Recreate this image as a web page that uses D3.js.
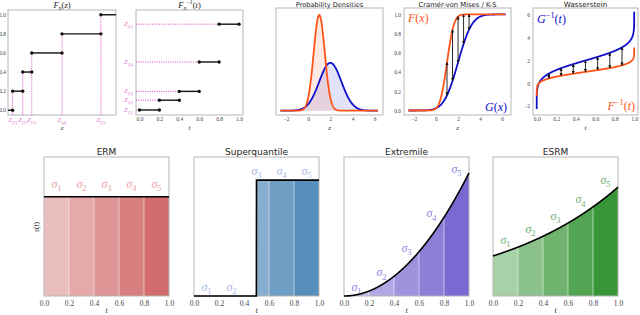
<!DOCTYPE html>
<html>
<head>
<meta charset="utf-8">
<script src="https://cdn.jsdelivr.net/npm/d3@7"></script>
<style>body{margin:0;background:#fff;}</style>
</head>
<body>
<div class="canvas"></div>
<script>
// values
const zSamples = [0.43, 1.36, 2.2, 5.0, 8.6];       // Z(1)..Z(5)
const fnLevels = [0, 0.2, 0.4, 0.6, 0.8, 1.0];      // F_n on each step
const fnTicks = [0, 0.2, 0.4, 0.6, 0.8, 1.0];
const tTicks = [0, 0.2, 0.4, 0.6, 0.8, 1.0];
const zTicks = [-2, 0, 2, 4, 6];
const cdfTicks = [0, 0.2, 0.4, 0.6, 0.8, 1.0];
const quantTicks = [-2, 0, 2, 4, 6];
const fDist = [1, 0.5];   // mean, sd of F (orange)
const gDist = [2, 1];     // mean, sd of G (blue)
const ksPoints = [1, 1.5, 2, 2.5, 3];
const wassPoints = [0.125, 0.25, 0.375, 0.5, 0.625, 0.75, 0.875];
const binEdges = [0, 0.2, 0.4, 0.6, 0.8, 1.0];
const binAlpha = [0.4, 0.525, 0.65, 0.775, 0.9];
const spectrumNames = ['ERM', 'Superquantile', 'Extremile', 'ESRM'];
const spectrumColors = ['#cd5c5c', '#4682b4', '#6a5acd', '#228b22'];
const sigmaColors = ['#e9a3a3', '#a6b9e6', '#8d84e0', '#6fae6f'];
const spectrumYMax = [1.4, 2.4, 3.39, 2.02];
const sigmaLift = [9, 5.5, 0, 3.5];
const sqLevel = 0.5;
const extremileR = 3;
const esrmRho = 1;

const ORANGE = '#ff5419', BLUE = '#1010cc', MAGENTA = '#e040b8', ZCOL = '#e36cc4';
const SERIF = '"Liberation Serif", "DejaVu Serif", serif';
const SANS = '"DejaVu Sans", sans-serif';

const svg = d3.select('.canvas')
    .append('svg')
    .attr('width', 640)
    .attr('height', 315);

const defs = svg.append('defs');
defs.append('marker')
    .attr('id', 'arr')
    .attr('viewBox', '0 0 10 10')
    .attr('refX', 9).attr('refY', 5)
    .attr('markerWidth', 3.2).attr('markerHeight', 3.2)
    .attr('markerUnits', 'userSpaceOnUse')
    .attr('orient', 'auto-start-reverse')
    .append('path').attr('d', 'M0,0L10,5L0,10z').attr('fill', '#111');

// math helpers
function normPdf(x, p) { return Math.exp(-((x - p[0]) ** 2) / (2 * p[1] * p[1])) / (p[1] * Math.sqrt(2 * Math.PI)); }
function erf(x) {
    const s = Math.sign(x); x = Math.abs(x);
    const t = 1 / (1 + 0.3275911 * x);
    const y = 1 - (((((1.061405429 * t - 1.453152027) * t) + 1.421413741) * t - 0.284496736) * t + 0.254829592) * t * Math.exp(-x * x);
    return s * y;
}
function normCdf(x, p) { return 0.5 * (1 + erf((x - p[0]) / (p[1] * Math.SQRT2))); }
function normInv(pr, p) {
    const a = [-3.969683028665376e+01, 2.209460984245205e+02, -2.759285104469687e+02, 1.383577518672690e+02, -3.066479806614716e+01, 2.506628277459239e+00];
    const b = [-5.447609879822406e+01, 1.615858368580409e+02, -1.556989798598866e+02, 6.680131188771972e+01, -1.328068155288572e+01];
    const c = [-7.784894002430293e-03, -3.223964580411365e-01, -2.400758277161838e+00, -2.549732539343734e+00, 4.374664141464968e+00, 2.938163982698783e+00];
    const d = [7.784695709041462e-03, 3.224671290700398e-01, 2.445134137142996e+00, 3.754408661907416e+00];
    let z;
    if (pr < 0.02425) {
        const q = Math.sqrt(-2 * Math.log(pr));
        z = (((((c[0] * q + c[1]) * q + c[2]) * q + c[3]) * q + c[4]) * q + c[5]) / ((((d[0] * q + d[1]) * q + d[2]) * q + d[3]) * q + 1);
    } else if (pr > 1 - 0.02425) {
        const q = Math.sqrt(-2 * Math.log(1 - pr));
        z = -(((((c[0] * q + c[1]) * q + c[2]) * q + c[3]) * q + c[4]) * q + c[5]) / ((((d[0] * q + d[1]) * q + d[2]) * q + d[3]) * q + 1);
    } else {
        const q = pr - 0.5, r = q * q;
        z = (((((a[0] * r + a[1]) * r + a[2]) * r + a[3]) * r + a[4]) * r + a[5]) * q / (((((b[0] * r + b[1]) * r + b[2]) * r + b[3]) * r + b[4]) * r + 1);
    }
    return p[0] + p[1] * z;
}

// text with sub/superscripts: parts = [[text, 'n'|'sub'|'sup', upright]]
function mathText(sel, parts, size) {
    let shift = 0;
    parts.forEach(([txt, kind, up]) => {
        const target = kind === 'sub' ? size * 0.28 : kind === 'sup' ? -size * 0.42 : 0;
        sel.append('tspan')
            .attr('dy', target - shift)
            .attr('font-size', kind === 'n' ? size : size * 0.7)
            .attr('font-style', up ? 'normal' : 'italic')
            .text(txt);
        shift = target;
    });
    return sel;
}
function label(x, y, anchor, color, parts, size) {
    const t = svg.append('text').attr('x', x).attr('y', y)
        .attr('text-anchor', anchor).attr('fill', color)
        .attr('font-family', SERIF);
    return mathText(t, parts, size);
}
function frame(l, r, t, b) {
    svg.append('rect').attr('x', l).attr('y', t).attr('width', r - l).attr('height', b - t)
        .attr('fill', 'none').attr('stroke', '#b5b5b5').attr('stroke-width', 1);
}
function styleAxis(g, size, family) {
    g.select('.domain').remove();
    g.selectAll('text').attr('font-size', size).attr('font-family', family).attr('fill', '#444');
}
function title(x, y, txt, size) {
    svg.append('text').attr('x', x).attr('y', y).attr('text-anchor', 'middle')
        .attr('font-family', SANS).attr('font-size', size).attr('fill', '#222').text(txt);
}

// ---------- panel 1 : F_n(z) ----------
{
    const x = d3.scaleLinear().domain([0, 10]).range([8, 116]);
    const y = d3.scaleLinear().domain([-0.05, 1.05]).range([115, 10]);
    frame(8, 116, 10, 115);
    const starts = [0, ...zSamples], ends = [...zSamples, 10];
    zSamples.forEach((z, i) => {
        svg.append('line').attr('x1', x(z)).attr('x2', x(z))
            .attr('y1', 115).attr('y2', y(fnLevels[i + 1]))
            .attr('stroke', MAGENTA).attr('stroke-width', 1).attr('stroke-dasharray', '1,1.3');
    });
    fnLevels.forEach((lv, i) => {
        svg.append('line').attr('x1', x(starts[i])).attr('x2', x(ends[i]))
            .attr('y1', y(lv)).attr('y2', y(lv)).attr('stroke', '#111').attr('stroke-width', 1.4);
        [starts[i], ends[i]].filter(v => v > 0 && v < 10).forEach(v => {
            svg.append('circle').attr('cx', x(v)).attr('cy', y(lv)).attr('r', 1.7).attr('fill', '#111');
        });
    });
    const ya = svg.append('g').attr('transform', 'translate(8,0)')
        .call(d3.axisLeft(y).tickValues(fnTicks).tickFormat(d3.format('.1f')).tickSize(0).tickPadding(2));
    styleAxis(ya, 5.5, SERIF);
    zSamples.forEach((z, i) => label(x(z), 122, 'middle', ZCOL, [['Z', 'n'], ['(' + (i + 1) + ')', 'sub', true]], 6.5));
    label(62, 130, 'middle', '#333', [['z', 'n']], 7);
    label(62, 8, 'middle', '#222', [['F', 'n'], ['n', 'sub'], ['(', 'n', true], ['z', 'n'], [')', 'n', true]], 8.5);
}

// ---------- panel 2 : F_n^{-1}(t) ----------
{
    const x = d3.scaleLinear().domain([-0.035, 1.04]).range([136, 243]);
    const y = d3.scaleLinear().domain([-0.05, 9.95]).range([115, 10]);
    frame(136, 243, 10, 115);
    zSamples.forEach((z, i) => {
        svg.append('line').attr('x1', 136).attr('x2', x(tTicks[i]))
            .attr('y1', y(z)).attr('y2', y(z))
            .attr('stroke', MAGENTA).attr('stroke-width', 1).attr('stroke-dasharray', '1,1.3');
        svg.append('line').attr('x1', x(tTicks[i])).attr('x2', x(tTicks[i + 1]))
            .attr('y1', y(z)).attr('y2', y(z)).attr('stroke', '#111').attr('stroke-width', 1.4);
        [tTicks[i], tTicks[i + 1]].forEach(v => {
            svg.append('circle').attr('cx', x(v)).attr('cy', y(z)).attr('r', 1.7).attr('fill', '#111');
        });
        label(133, y(z) + 2, 'end', ZCOL, [['Z', 'n'], ['(' + (i + 1) + ')', 'sub', true]], 6.5);
    });
    const xa = svg.append('g').attr('transform', 'translate(0,115)')
        .call(d3.axisBottom(x).tickValues(tTicks).tickFormat(d3.format('.1f')).tickSize(0).tickPadding(2.5));
    styleAxis(xa, 5.5, SERIF);
    label(189.5, 130, 'middle', '#333', [['t', 'n']], 7);
    label(189.5, 8, 'middle', '#222', [['F', 'n'], ['n', 'sub'], ['\u22121', 'sup', true], ['(', 'n', true], ['t', 'n'], [')', 'n', true]], 8.5);
}

// ---------- panel 3 : densities ----------
const zGrid = d3.range(0, 441).map(j => -2.5 + j * 0.02);
{
    const x = d3.scaleLinear().domain([-2.9, 6.75]).range([276, 383]);
    const y = d3.scaleLinear().domain([-0.036, 0.856]).range([115, 8]);
    frame(276, 383, 8, 115);
    [[gDist, BLUE], [fDist, ORANGE]].forEach(([p, col]) => {
        svg.append('path').datum(zGrid)
            .attr('d', d3.area().x(d => x(d)).y0(y(0)).y1(d => y(normPdf(d, p))))
            .attr('fill', col).attr('fill-opacity', 0.12);
    });
    [[gDist, BLUE], [fDist, ORANGE]].forEach(([p, col]) => {
        svg.append('path').datum(zGrid)
            .attr('d', d3.line().x(d => x(d)).y(d => y(normPdf(d, p))))
            .attr('fill', 'none').attr('stroke', col).attr('stroke-width', 1.8);
    });
    const xa = svg.append('g').attr('transform', 'translate(0,115)')
        .call(d3.axisBottom(x).tickValues(zTicks).tickFormat(d3.format('d')).tickSize(0).tickPadding(2.5));
    styleAxis(xa, 5.5, SERIF);
    label(329.5, 130, 'middle', '#333', [['z', 'n']], 7);
    title(329.5, 6.5, 'Probability Densities', 6.6);
}

// ---------- panel 4 : Cramér-von Mises / K-S ----------
{
    const x = d3.scaleLinear().domain([-2.9, 6.8]).range([404, 511]);
    const y = d3.scaleLinear().domain([-0.047, 1.067]).range([115, 8]);
    frame(404, 511, 8, 115);
    [[gDist, BLUE], [fDist, ORANGE]].forEach(([p, col]) => {
        svg.append('path').datum(zGrid)
            .attr('d', d3.line().x(d => x(d)).y(d => y(normCdf(d, p))))
            .attr('fill', 'none').attr('stroke', col).attr('stroke-width', 1.8);
    });
    ksPoints.forEach(z => {
        svg.append('line').attr('x1', x(z)).attr('x2', x(z))
            .attr('y1', y(normCdf(z, gDist))).attr('y2', y(normCdf(z, fDist)))
            .attr('stroke', '#111').attr('stroke-width', 0.9)
            .attr('marker-start', 'url(#arr)').attr('marker-end', 'url(#arr)');
    });
    const xa = svg.append('g').attr('transform', 'translate(0,115)')
        .call(d3.axisBottom(x).tickValues(zTicks).tickFormat(d3.format('d')).tickSize(0).tickPadding(2.5));
    styleAxis(xa, 5.5, SERIF);
    const ya = svg.append('g').attr('transform', 'translate(404,0)')
        .call(d3.axisLeft(y).tickValues(cdfTicks).tickFormat(d3.format('.1f')).tickSize(0).tickPadding(3));
    styleAxis(ya, 5.5, SERIF);
    label(457.5, 130, 'middle', '#333', [['z', 'n']], 7);
    label(408, 22, 'start', ORANGE, [['F', 'n'], ['(', 'n', true], ['x', 'n'], [')', 'n', true]], 12);
    label(507, 111, 'end', BLUE, [['G', 'n'], ['(', 'n', true], ['x', 'n'], [')', 'n', true]], 12);
    title(457.5, 6.5, 'Cramér-von Mises / K-S', 6.8);
}

// ---------- panel 5 : Wasserstein ----------
{
    const x = d3.scaleLinear().domain([-0.038, 1.039]).range([533, 638]);
    const y = d3.scaleLinear().domain([-2.78, 6.6]).range([115, 8]);
    frame(533, 638, 8, 115);
    const tGrid = d3.range(0, 401).map(j => Math.min(1 - 1e-5, Math.max(1e-5, 0.5 - 0.5 * Math.cos(Math.PI * j / 400))));
    [[gDist, BLUE], [fDist, ORANGE]].forEach(([p, col]) => {
        svg.append('path').datum(tGrid)
            .attr('d', d3.line().x(d => x(d)).y(d => y(normInv(d, p))))
            .attr('fill', 'none').attr('stroke', col).attr('stroke-width', 1.8);
    });
    wassPoints.forEach(t => {
        svg.append('line').attr('x1', x(t)).attr('x2', x(t))
            .attr('y1', y(normInv(t, fDist))).attr('y2', y(normInv(t, gDist)))
            .attr('stroke', '#111').attr('stroke-width', 0.9)
            .attr('marker-start', 'url(#arr)').attr('marker-end', 'url(#arr)');
    });
    const xa = svg.append('g').attr('transform', 'translate(0,115)')
        .call(d3.axisBottom(x).tickValues(tTicks).tickFormat(d3.format('.1f')).tickSize(0).tickPadding(2.5));
    styleAxis(xa, 5.5, SERIF);
    const ya = svg.append('g').attr('transform', 'translate(533,0)')
        .call(d3.axisLeft(y).tickValues(quantTicks).tickFormat(d3.format('d')).tickSize(0).tickPadding(3));
    styleAxis(ya, 5.5, SERIF);
    label(585.5, 130, 'middle', '#333', [['t', 'n']], 7);
    label(537, 23, 'start', BLUE, [['G', 'n'], ['\u22121', 'sup', true], ['(', 'n', true], ['t', 'n'], [')', 'n', true]], 12);
    label(635, 110, 'end', ORANGE, [['F', 'n'], ['\u22121', 'sup', true], ['(', 'n', true], ['t', 'n'], [')', 'n', true]], 12);
    title(585.5, 6.5, 'Wasserstein', 7.2);
}

// ---------- bottom row : spectra ----------
const spectra = [
    t => 1,
    t => (t < sqLevel ? 0 : 1 / (1 - sqLevel)),
    t => extremileR * Math.pow(t, extremileR - 1),
    t => esrmRho * Math.exp(esrmRho * t) / (Math.exp(esrmRho) - 1)
];
const bottomLeft = [44, 194, 344, 493];
spectrumNames.forEach((name, k) => {
    const l = bottomLeft[k], r = l + 125, top = 157, bottom = 296;
    const x = d3.scaleLinear().domain([0, 1]).range([l, r]);
    const y = d3.scaleLinear().domain([0, spectrumYMax[k]]).range([bottom, top]);
    const s = spectra[k];
    binAlpha.forEach((a, i) => {
        const t0 = binEdges[i], t1 = binEdges[i + 1];
        const pts = d3.range(0, 201).map(j => t0 + (t1 - t0) * j / 200);
        svg.append('path').datum(pts)
            .attr('d', d3.area().x(d => x(d)).y0(y(0)).y1(d => y(s(d))))
            .attr('fill', spectrumColors[k]).attr('fill-opacity', a);
        if (i > 0 && s(t0) > 0) {
            svg.append('line').attr('x1', x(t0)).attr('x2', x(t0))
                .attr('y1', y(0)).attr('y2', y(s(t0)))
                .attr('stroke', '#fff').attr('stroke-width', 0.9).attr('stroke-opacity', 0.6);
        }
        const tl = svg.append('text').attr('x', x((t0 + t1) / 2)).attr('y', y(s(t1 - 1e-9)) - sigmaLift[k])
            .attr('text-anchor', 'middle').attr('fill', sigmaColors[k]).attr('font-family', SERIF);
        mathText(tl, [['\u03c3', 'n'], [String(i + 1), 'sub', true]], 12);
    });
    frame(l, r, top, bottom);
    const line = d3.range(0, 1001).map(j => j / 1000);
    svg.append('path').datum(line)
        .attr('d', d3.line().x(d => x(d)).y(d => y(s(d))))
        .attr('fill', 'none').attr('stroke', '#000').attr('stroke-width', 1.6);
    const xa = svg.append('g').attr('transform', `translate(0,${bottom})`)
        .call(d3.axisBottom(x).tickValues(tTicks).tickFormat(d3.format('.1f')).tickSize(0).tickPadding(5));
    styleAxis(xa, 7.5, SERIF);
    label((l + r) / 2, 313, 'middle', '#333', [['t', 'n']], 8);
    title((l + r) / 2, 154.5, name, 9);
});
label(0, 0, 'middle', '#333', [['s', 'n'], ['(', 'n', true], ['t', 'n'], [')', 'n', true]], 7.5)
    .attr('transform', 'translate(39,227) rotate(-90)');
</script>
</body>
</html>
